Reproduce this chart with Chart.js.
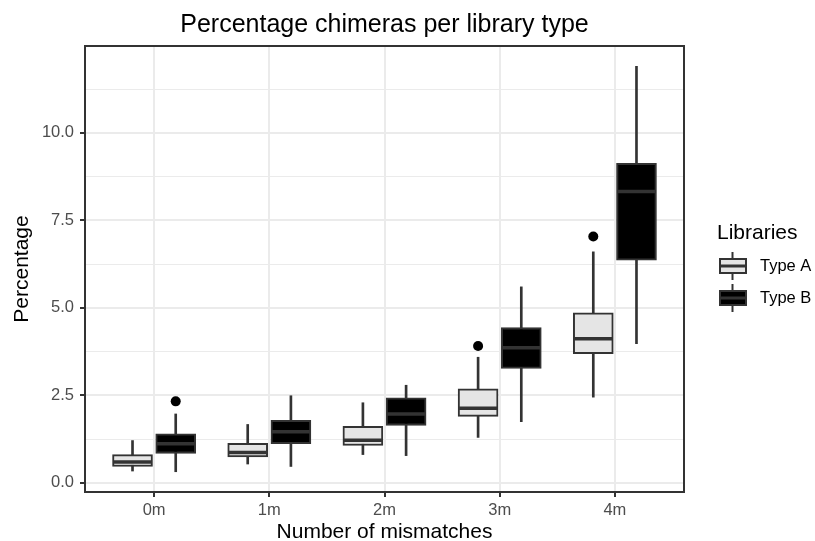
<!DOCTYPE html>
<html><head><meta charset="utf-8">
<script src="https://cdn.jsdelivr.net/npm/chart.js@4/dist/chart.umd.min.js"></script>
<style>html,body{margin:0;padding:0;background:#fff;}canvas{display:block;}</style>
</head><body>
<canvas id="c" width="815" height="541"></canvas>
<script>
// ---- data ----
const categories = ['0m', '1m', '2m', '3m', '4m'];
const seriesNames = ['Type A', 'Type B'];
const typeA_whiskerLow  = [0.34, 0.54, 0.81, 1.30, 2.45];
const typeA_q1          = [0.47, 0.74, 1.07, 1.90, 3.69];
const typeA_median      = [0.60, 0.87, 1.22, 2.13, 4.12];
const typeA_q3          = [0.81, 1.13, 1.62, 2.69, 4.86];
const typeA_whiskerHigh = [1.21, 1.67, 2.29, 3.59, 6.60];
const typeA_outliers    = [[], [], [], [3.91], [7.04]];
const typeB_whiskerLow  = [0.32, 0.47, 0.78, 1.75, 3.98];
const typeB_q1          = [0.84, 1.12, 1.64, 3.27, 6.36];
const typeB_median      = [1.12, 1.46, 1.97, 3.86, 8.32];
const typeB_q3          = [1.40, 1.79, 2.43, 4.44, 9.13];
const typeB_whiskerHigh = [1.97, 2.49, 2.79, 5.60, 11.90];
const typeB_outliers    = [[2.33], [], [], [], []];
const yTicks = [0, 2.5, 5, 7.5, 10];
const yTickLabels = ['0.0', '2.5', '5.0', '7.5', '10.0'];

// ---- styling / layout ----
const FONT = '"Liberation Sans", Arial, Helvetica, sans-serif';
const LINE = '#333333';
const GRID = '#EBEBEB';
const DODGE = 0.1875;
const series = [
  {name: seriesNames[0], lo: typeA_whiskerLow, q1: typeA_q1, med: typeA_median, q3: typeA_q3, hi: typeA_whiskerHigh, out: typeA_outliers, fill: '#E5E5E5', off: -DODGE},
  {name: seriesNames[1], lo: typeB_whiskerLow, q1: typeB_q1, med: typeB_median, q3: typeB_q3, hi: typeB_whiskerHigh, out: typeB_outliers, fill: '#000000', off: DODGE}
];

// y range: data range expanded by 5% (ggplot default)
const allVals = [];
series.forEach(s => { allVals.push(...s.lo, ...s.hi); s.out.forEach(o => allVals.push(...o)); });
const dMin = Math.min(...allVals), dMax = Math.max(...allVals);
const yMin = dMin - 0.05 * (dMax - dMin), yMax = dMax + 0.05 * (dMax - dMin);

const step = yTicks[1] - yTicks[0];
const minorTicks = [];
for (let i = -1; i < yTicks.length; i++) {
  const v = yTicks[0] + (i + 0.5) * step;
  if (v >= yMin && v <= yMax) minorTicks.push(v);
}
const isMajor = v => yTicks.some(t => Math.abs(t - v) < 1e-9);

const datasets = [];
series.forEach(s => {
  datasets.push({
    type: 'bar', label: s.name + ' whiskers',
    data: categories.map((c, i) => ({x: i + s.off, y: [s.lo[i], s.hi[i]]})),
    backgroundColor: LINE, borderWidth: 0, barThickness: 2, grouped: false, order: 3
  });
  datasets.push({
    type: 'bar', label: s.name,
    data: categories.map((c, i) => ({x: i + s.off, y: [s.q1[i], s.q3[i]]})),
    backgroundColor: s.fill, borderColor: LINE, borderWidth: 2, borderSkipped: false,
    barThickness: 40, grouped: false, order: 2
  });
  datasets.push({
    type: 'line', label: s.name + ' median',
    data: categories.map((c, i) => ({x: i + s.off, y: s.med[i]})),
    showLine: false, pointStyle: 'line', pointRadius: 19, pointHoverRadius: 19,
    pointBorderWidth: 3.5, pointBorderColor: LINE, order: 1
  });
  const outPts = [];
  s.out.forEach((arr, i) => arr.forEach(v => outPts.push({x: i + s.off, y: v})));
  datasets.push({
    type: 'line', label: s.name + ' outliers', data: outPts,
    showLine: false, pointStyle: 'circle', pointRadius: 5, pointHoverRadius: 5,
    pointBackgroundColor: '#000000', pointBorderWidth: 0, order: 0
  });
});

const panelPlugin = {
  id: 'panel',
  afterDatasetsDraw(chart) {
    const {ctx, chartArea: a} = chart;
    ctx.save();
    ctx.strokeStyle = LINE; ctx.lineWidth = 2;
    ctx.strokeRect(a.left, a.top, a.right - a.left, a.bottom - a.top);
    ctx.restore();
  }
};

const legendPlugin = {
  id: 'boxLegend',
  afterDraw(chart) {
    const {ctx} = chart;
    ctx.save();
    ctx.fillStyle = '#000';
    ctx.textBaseline = 'middle';
    ctx.textAlign = 'left';
    ctx.font = '21px ' + FONT;
    ctx.fillText('Libraries', 717, 233);
    ctx.font = '16.5px ' + FONT;
    series.forEach((s, k) => {
      const cy = 266 + 32 * k, cx = 732.5;
      ctx.strokeStyle = LINE;
      ctx.lineWidth = 2;
      ctx.beginPath(); ctx.moveTo(cx, cy - 14); ctx.lineTo(cx, cy + 14); ctx.stroke();
      ctx.fillStyle = s.fill;
      ctx.fillRect(720, cy - 7, 26, 14);
      ctx.strokeRect(720, cy - 7, 26, 14);
      ctx.lineWidth = 3;
      ctx.beginPath(); ctx.moveTo(720, cy); ctx.lineTo(746, cy); ctx.stroke();
      ctx.fillStyle = '#000';
      ctx.fillText(s.name, 760, cy);
    });
    ctx.restore();
  }
};

Chart.defaults.font.family = FONT;

new Chart(document.getElementById('c'), {
  type: 'bar',
  data: {datasets},
  options: {
    responsive: false,
    animation: false,
    devicePixelRatio: 1,
    events: [],
    layout: {padding: {left: 0, right: 131, top: 0, bottom: 0}},
    plugins: {
      legend: {display: false},
      tooltip: {enabled: false},
      title: {
        display: true, text: 'Percentage chimeras per library type',
        color: '#000', font: {size: 25, weight: 'normal'},
        fullSize: false, padding: {top: 10, bottom: 6}
      }
    },
    scales: {
      x: {
        type: 'linear', min: -0.6, max: 4.6, offset: false,
        afterBuildTicks: sc => { sc.ticks = categories.map((c, i) => ({value: i})); },
        ticks: {callback: v => categories[v], color: '#4D4D4D', font: {size: 16.5}, padding: 3.5, autoSkip: false, maxRotation: 0},
        grid: {offset: false, color: GRID, lineWidth: 2, tickLength: 5, tickColor: LINE, tickWidth: 2},
        border: {display: false},
        title: {display: true, text: 'Number of mismatches', color: '#000', font: {size: 21}, padding: {top: 0, bottom: -3.4}},
        afterFit: sc => { sc.height = 49; }
      },
      y: {
        type: 'linear', min: yMin, max: yMax,
        afterBuildTicks: sc => { sc.ticks = [...yTicks, ...minorTicks].sort((a, b) => a - b).map(v => ({value: v})); },
        ticks: {
          callback: v => { const i = yTicks.findIndex(t => Math.abs(t - v) < 1e-9); return i >= 0 ? yTickLabels[i] : ''; },
          color: '#4D4D4D', font: {size: 16.5}, padding: 6, autoSkip: false
        },
        grid: {
          color: GRID,
          lineWidth: c => isMajor(c.tick.value) ? 2 : 1,
          tickLength: 5,
          tickColor: c => isMajor(c.tick.value) ? LINE : 'rgba(0,0,0,0)',
          tickWidth: 2
        },
        border: {display: false},
        title: {display: true, text: 'Percentage', color: '#000', font: {size: 21}, padding: {top: 9.4, bottom: 0}},
        afterFit: sc => { sc.width = 85; }
      }
    }
  },
  plugins: [panelPlugin, legendPlugin]
});
</script>
</body></html>
